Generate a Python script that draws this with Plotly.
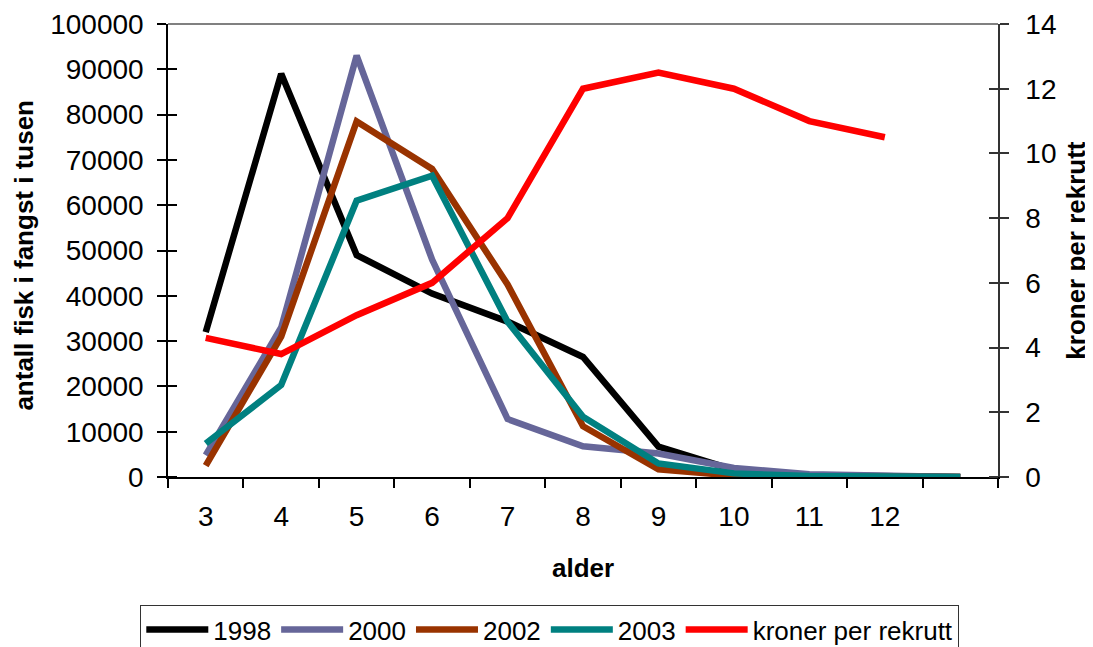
import plotly.graph_objects as go

# ---- data ----
ages = ['3', '4', '5', '6', '7', '8', '9', '10', '11', '12', ' ']
catch_1998 = [32000, 89000, 49000, 40500, 34300, 26500, 6700, 1600, 400, 100, 0]
catch_2000 = [4800, 33000, 93000, 48000, 12800, 6800, 5200, 2000, 600, 200, 0]
catch_2002 = [2500, 31000, 78500, 68000, 42500, 11200, 1700, 300, 100, 0, 0]
catch_2003 = [7400, 20300, 61000, 66500, 34300, 13300, 3000, 800, 200, 100, 0]
kroner_per_rekrutt = [4.3, 3.8, 5.0, 6.0, 8.0, 12.0, 12.5, 12.0, 11.0, 10.5, None]

left_ticks = [0, 10000, 20000, 30000, 40000, 50000, 60000, 70000, 80000, 90000, 100000]
right_ticks = [0, 2, 4, 6, 8, 10, 12, 14]

series = [
    ('1998', catch_1998, '#000000'),
    ('2000', catch_2000, '#666699'),
    ('2002', catch_2002, '#993300'),
    ('2003', catch_2003, '#008080'),
]

FONT = 'Liberation Sans, Arial, sans-serif'
LW = 6.5

fig = go.Figure()
for name, vals, col in series:
    fig.add_trace(go.Scatter(x=ages, y=vals, name=name, mode='lines',
                             line=dict(color=col, width=LW), yaxis='y'))
fig.add_trace(go.Scatter(x=ages, y=kroner_per_rekrutt, name='kroner per rekrutt',
                         mode='lines', line=dict(color='#FF0000', width=LW),
                         yaxis='y2'))

tickfont = dict(family=FONT, size=28, color='black')

# page body has an 8px margin; figure is sized to fit the 1093x647 window
fig.update_layout(
    template='none',
    width=1085, height=639,
    margin=dict(l=160, r=95, t=16, b=170, autoexpand=False),
    paper_bgcolor='white', plot_bgcolor='white',
    font=dict(family=FONT, color='black'),
    xaxis=dict(type='category', categoryorder='array', categoryarray=ages,
               range=[-0.5, len(ages) - 0.5], tickson='boundaries',
               ticks='outside', ticklen=9, tickwidth=1.5, tickcolor='black',
               showline=True, linecolor='black', linewidth=1.5,
               showgrid=False, zeroline=False, tickfont=tickfont,
               ticklabelstandoff=14, automargin=False),
    yaxis=dict(range=[0, 100000], tickmode='array', tickvals=left_ticks,
               ticktext=[str(v) for v in left_ticks],
               ticks='outside', ticklen=9, tickwidth=1.5, tickcolor='black',
               showline=True, linecolor='black', linewidth=1.5,
               showgrid=False, zeroline=False, tickfont=tickfont,
               ticklabelstandoff=8, automargin=False,
               minor=dict(tickmode='array', tickvals=[v + 1 for v in left_ticks],
                          ticks='inside', ticklen=9, tickwidth=1.5,
                          tickcolor='black', showgrid=False)),
    yaxis2=dict(range=[0, 14], overlaying='y', side='right', anchor='x',
                tickmode='array', tickvals=right_ticks,
                ticks='outside', ticklen=9, tickwidth=1.5, tickcolor='#333333',
                showline=True, linecolor='#333333', linewidth=1.5,
                showgrid=False, zeroline=False, tickfont=tickfont,
                ticklabelstandoff=11, automargin=False,
                minor=dict(tickmode='array', tickvals=[v + 0.0001 for v in right_ticks],
                           ticks='inside', ticklen=9, tickwidth=1.5,
                           tickcolor='#333333', showgrid=False)),
    showlegend=True,
    legend=dict(orientation='h', x=0.46, xanchor='center', y=-0.2826, yanchor='top',
                bordercolor='#333333', borderwidth=1, bgcolor='white',
                font=dict(family=FONT, size=26, color='black'),
                itemwidth=62, traceorder='normal'),
    shapes=[dict(type='line', xref='paper', yref='paper', x0=0, x1=1, y0=1, y1=1,
                 line=dict(color='#808080', width=2))],
    annotations=[
        dict(text='<b>alder</b>', xref='paper', yref='paper', x=0.5, y=-0.201,
             xanchor='center', yanchor='middle', showarrow=False,
             font=dict(family=FONT, size=26, color='black')),
        dict(text='<b>antall fisk i fangst i tusen</b>', xref='paper', yref='paper',
             x=-0.174, y=0.49, xanchor='center', yanchor='middle', showarrow=False,
             textangle=-90, font=dict(family=FONT, size=26, color='black')),
        dict(text='<b>kroner per rekrutt</b>', xref='paper', yref='paper',
             x=1.093, y=0.5, xanchor='center', yanchor='middle', showarrow=False,
             textangle=-90, font=dict(family=FONT, size=26, color='black')),
    ],
)

fig.write_html('out.html')
